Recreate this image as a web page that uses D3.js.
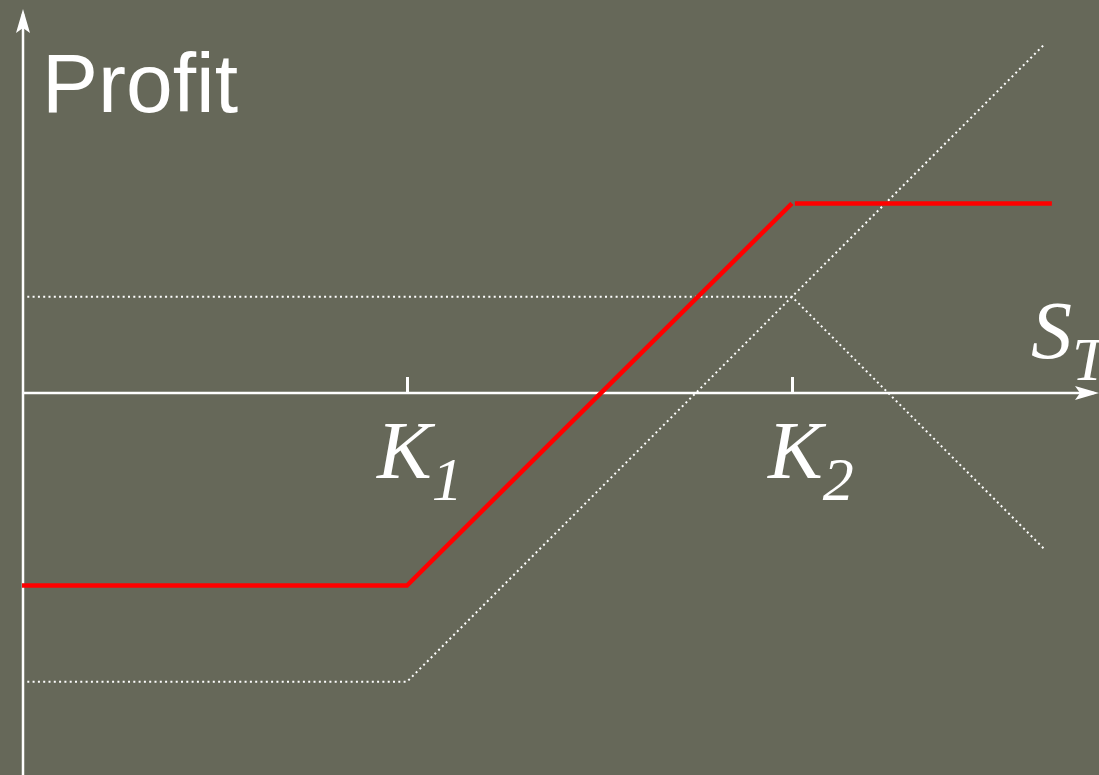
<!DOCTYPE html>
<html>
<head>
<meta charset="utf-8">
<script src="https://cdn.jsdelivr.net/npm/d3@7"></script>
<style>
  html, body { margin: 0; padding: 0; background: #666859; overflow: hidden; }
  svg { display: block; }
</style>
</head>
<body>
<svg id="grafico"></svg>
<script>
const WIDTH = 1099,
    HEIGHT = 775;

// strike prices (x units) and tick labels
const strikes = [40, 80];
const strikeLabels = [["K", "1"], ["K", "2"]];

// profit lines, [stock price, profit]
const longCall = [[0, -30], [40, -30], [106.3, 36.3]];
const shortCall = [[0, 10], [80, 10], [106.3, -16.3]];
const spreadLow = [[0, -20], [40, -20], [80, 19.7]];
const spreadHigh = [[80.3, 19.7], [107, 19.7]];

const escalaX = d3.scaleLinear()
    .domain([0, 112])
    .range([22, 22 + 112 * 9.625]);

const escalaY = d3.scaleLinear()
    .domain([-40, 40])
    .range([393 + 385, 393 - 385]);

const svg = d3.select("#grafico")
    .attr("width", WIDTH)
    .attr("height", HEIGHT);

svg.append("rect")
    .attr("width", WIDTH)
    .attr("height", HEIGHT)
    .attr("fill", "#666859");

const linea = d3.line()
    .x(d => escalaX(d[0]))
    .y(d => escalaY(d[1]));

// dotted component payoffs
[longCall, shortCall].forEach(datos => {
    svg.append("path")
        .attr("d", linea(datos))
        .attr("fill", "none")
        .attr("stroke", "white")
        .attr("stroke-width", 2)
        .attr("stroke-dasharray", "2,3.3");
});

// x axis with ticks at the strikes
const ejeX = d3.axisBottom(escalaX)
    .tickValues(strikes)
    .tickSizeInner(-16)
    .tickSizeOuter(0)
    .tickFormat("");

const contenedorEjeX = svg.append("g")
    .attr("transform", `translate(0 ${escalaY(0)})`)
    .call(ejeX);

contenedorEjeX.select(".domain")
    .attr("d", `M${escalaX(0)},0H1094`)
    .attr("stroke", "white")
    .attr("stroke-width", 2.5);

contenedorEjeX.selectAll(".tick line")
    .attr("stroke", "white")
    .attr("stroke-width", 3);

// y axis line
svg.append("line")
    .attr("x1", escalaX(0) + 1)
    .attr("x2", escalaX(0) + 1)
    .attr("y1", HEIGHT)
    .attr("y2", 14)
    .attr("stroke", "white")
    .attr("stroke-width", 2.5);

// arrow heads
svg.append("path")
    .attr("d", "M0,0L-7,24L0,19L7,24Z")
    .attr("transform", `translate(${escalaX(0) + 1} 9)`)
    .attr("fill", "white");

svg.append("path")
    .attr("d", "M0,0L-7,24L0,19L7,24Z")
    .attr("transform", `translate(1099 ${escalaY(0)}) rotate(90)`)
    .attr("fill", "white");

// bull spread profit
[spreadLow, spreadHigh].forEach(datos => {
    svg.append("path")
        .attr("d", linea(datos))
        .attr("fill", "none")
        .attr("stroke", "#ff0000")
        .attr("stroke-width", 4.5);
});

// strike labels
strikeLabels.forEach((etiqueta, i) => {
    const texto = svg.append("text")
        .attr("x", escalaX(strikes[i]) - 30 + i * 6)
        .attr("y", 478)
        .attr("fill", "white")
        .attr("font-family", "'Liberation Serif', 'Times New Roman', serif")
        .attr("font-style", "italic")
        .attr("font-size", 82);
    texto.append("tspan").text(etiqueta[0]);
    texto.append("tspan")
        .attr("dx", 0)
        .attr("dy", 22)
        .attr("font-size", 62)
        .text(etiqueta[1]);
});

// S_T label
const textoS = svg.append("text")
    .attr("x", 1031)
    .attr("y", 358)
    .attr("fill", "white")
    .attr("font-family", "'Liberation Serif', 'Times New Roman', serif")
    .attr("font-style", "italic")
    .attr("font-size", 82);
textoS.append("tspan").text("S");
textoS.append("tspan")
    .attr("dx", 0)
    .attr("dy", 22)
    .attr("font-size", 62)
    .text("T");

// Profit label
svg.append("text")
    .attr("x", 42)
    .attr("y", 112)
    .attr("fill", "white")
    .attr("font-family", "'Liberation Sans', Arial, sans-serif")
    .attr("font-size", 84)
    .text("Profit");
</script>
</body>
</html>
